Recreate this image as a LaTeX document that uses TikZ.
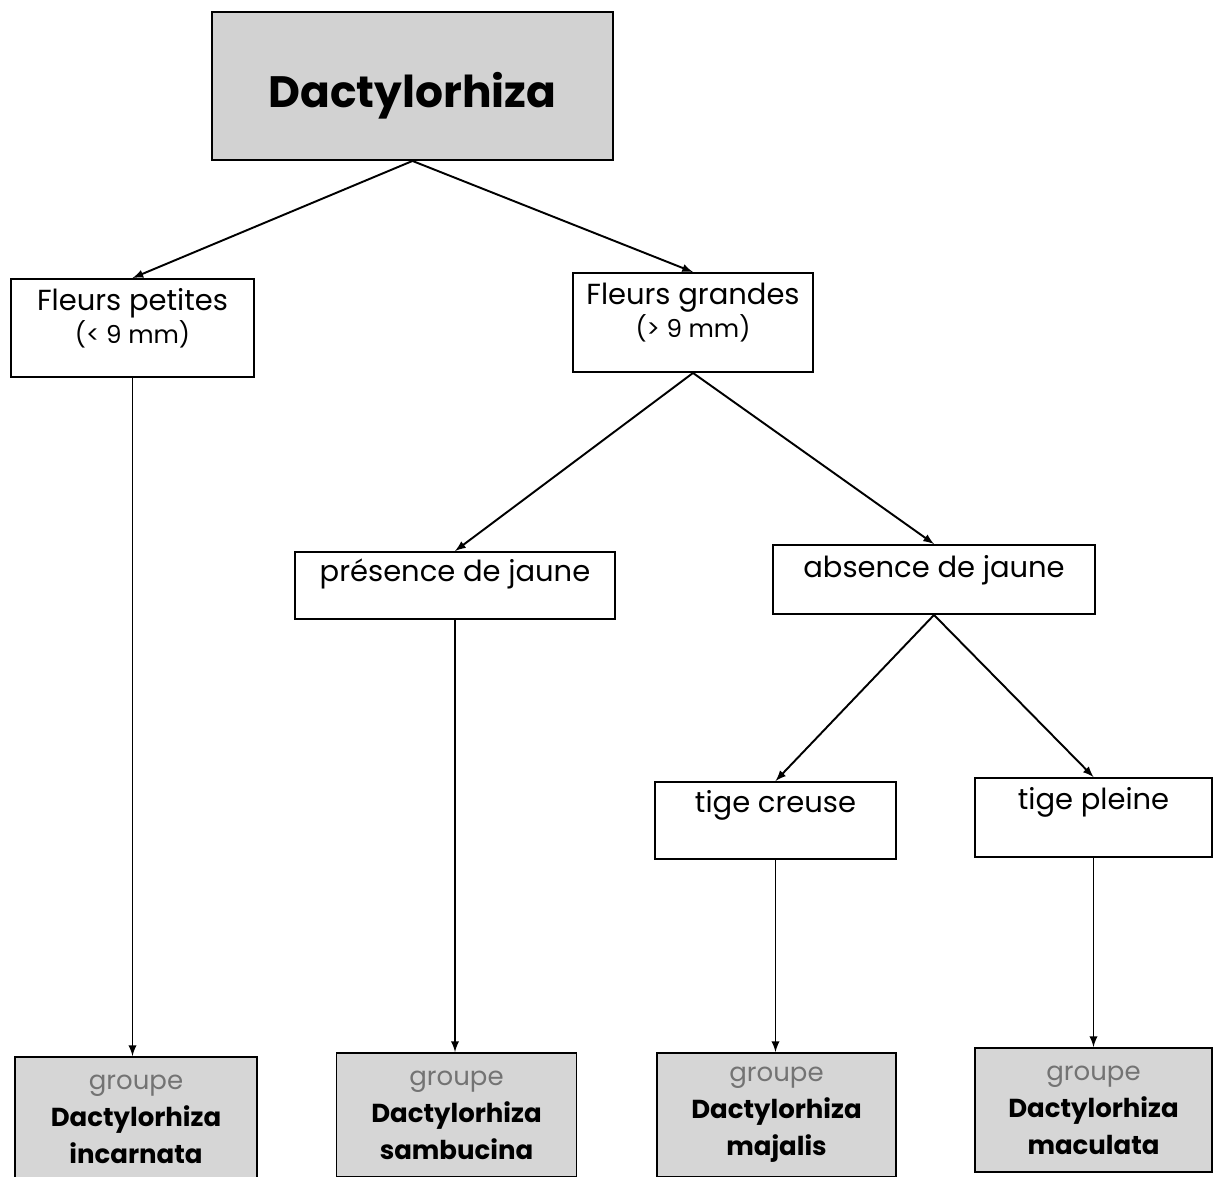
\documentclass[tikz,border=0pt]{standalone}
\usepackage{fontspec}
\setmainfont{Poppins}
\usepackage{tikz}
\usepackage{xcolor}

\begin{document}
\begin{tikzpicture}[x=0.02cm, y=-0.02cm, line width=1pt,
  every node/.style={font=\fontsize{16.5}{19}\selectfont},
  keybox/.style={draw, rectangle, align=center, inner sep=0pt, line width=1.1pt},
  groupbox/.style={draw, rectangle, fill=gray!32, align=center, inner sep=0pt, line width=1.1pt,
    minimum width=4.8cm, minimum height=2.48cm, font=\fontsize{14.8}{21}\selectfont\bfseries},
  link/.style={->, line width=1.1pt, >=latex}]
\useasboundingbox (0,0) rectangle (1216,1176);
% Boxes
\node[draw, rectangle, fill=gray!35, minimum width=8.02cm, minimum height=2.96cm, line width=1.1pt,
  font=\fontsize{25}{28}\selectfont\bfseries, text height=30pt, text depth=5pt] (root) at (412.5,86) {Dactylorhiza};
\node[keybox, minimum width=4.86cm, minimum height=1.96cm, text depth=14pt] (petites) at (132.5,328) {Fleurs petites\\{\fontsize{14}{16}\selectfont(< 9 mm)}};
\node[keybox, minimum width=4.8cm, minimum height=1.98cm, text depth=14pt] (grandes) at (693,322.5) {Fleurs grandes\\{\fontsize{14}{16}\selectfont(> 9 mm)}};
\node[keybox, minimum width=6.4cm, minimum height=1.34cm, text depth=17pt] (presence) at (455,585.5) {présence de jaune};
\node[keybox, minimum width=6.44cm, minimum height=1.38cm, text depth=15pt] (absence) at (934,579.5) {absence de jaune};
\node[keybox, minimum width=4.82cm, minimum height=1.54cm, text depth=22pt] (creuse) at (775.5,820.5) {tige creuse};
\node[keybox, minimum width=4.74cm, minimum height=1.58cm, text depth=22pt] (pleine) at (1093.5,817.5) {tige pleine};

% Groups
\node[groupbox, minimum width=4.84cm] (incarnata) at (136,1119) {\textcolor{black!55}{\mdseries groupe}\\Dactylorhiza\\incarnata};
\node[groupbox] (sambucina) at (456.5,1115) {\textcolor{black!55}{\mdseries groupe}\\Dactylorhiza\\sambucina};
\node[groupbox, minimum width=4.78cm] (majalis) at (776.5,1115) {\textcolor{black!55}{\mdseries groupe}\\Dactylorhiza\\majalis};
\node[groupbox, minimum width=4.74cm] (maculata) at (1093.5,1110) {\textcolor{black!55}{\mdseries groupe}\\Dactylorhiza\\maculata};

% Arrows
\draw[link] (root.south) -- (petites.north);
\draw[link] (root.south) -- (grandes.north);
\draw[link] (grandes.south) -- (presence.north);
\draw[link] (grandes.south) -- (absence.north);
\draw[link] (absence.south) -- (creuse.north);
\draw[link] (absence.south) -- (pleine.north);
\draw[link] (petites.south) -- (petites.south |- incarnata.north);
\draw[link] (presence.south) -- (presence.south |- sambucina.north);
\draw[link] (creuse.south) -- (creuse.south |- majalis.north);
\draw[link] (pleine.south) -- (pleine.south |- maculata.north);
\end{tikzpicture}
\end{document}
